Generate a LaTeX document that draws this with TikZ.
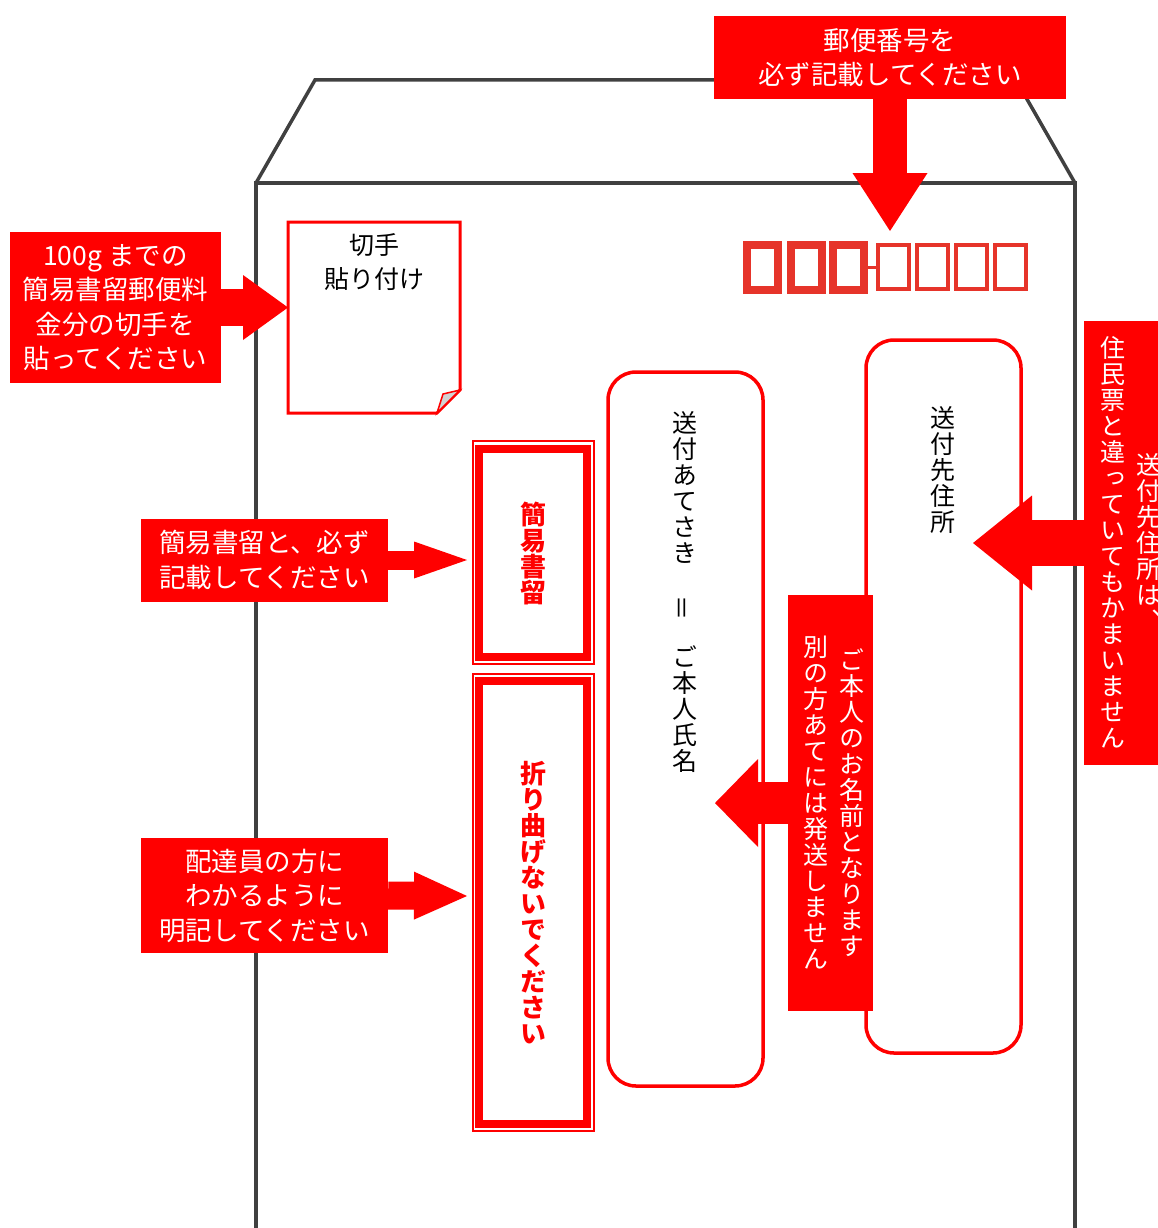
\documentclass[tikz,border=0pt]{standalone}
\usepackage{fontspec}
\usepackage{graphicx}
\usetikzlibrary{arrows.meta}
\newfontfamily\jp{Noto Sans CJK JP}
\newfontfamily\jpv[RawFeature=+vert]{Noto Sans CJK JP}
\definecolor{callred}{RGB}{255,0,0}
\definecolor{zipred}{RGB}{230,52,42}
\definecolor{envgray}{RGB}{64,64,64}
% vertical writing: one character per cell
\newlength\tatepitch
\setlength\tatepitch{26pt}
\newcommand\tatechar[1]{\ifx\relax#1\else\hbox to \tatepitch{\hss#1\hss}\expandafter\tatechar\fi}
\newcommand\tate[1]{\vbox{\baselineskip=\tatepitch\lineskiplimit=-\maxdimen\tatechar#1\relax}}
\newcommand\eqv{\rotatebox[origin=c]{90}{\jp ＝}}
\tikzset{
	callout/.style={fill=callred, text=white, inner sep=0pt, align=center,
		font=\jp\fontsize{26.5}{34.5}\selectfont},
	tatecall/.style={fill=callred, inner sep=0pt},
	tatewhite/.style={inner sep=0pt, text=white, font=\jpv\fontsize{25}{26}\selectfont},
	tateblack/.style={inner sep=0pt, text=black, font=\jpv\fontsize{25}{26}\selectfont},
	tatered/.style={draw=callred, line width=8pt, inner sep=0pt, text=callred,
		font=\jpv\bfseries\fontsize{26}{26}\selectfont},
	addrbox/.style={draw=callred, line width=3.5pt, rounded corners=28pt, inner sep=0pt},
	zipbox/.style={draw=zipred},
	envline/.style={draw=envgray, line width=3.5pt, line join=miter},
	fatarrow/.style n args={3}{draw=callred, line width=#1,
		-{Triangle[length=#3, width=#2, line width=0pt]}},
}

\begin{document}
\begin{tikzpicture}[x=1pt, y=-1pt]
	\useasboundingbox (0,0) rectangle (1158,1228);
	\clip (0,0) rectangle (1158,1228);
	
	% envelope
	\draw[envline] (256,1240) -- (256,183) -- (1075,183) -- (1075,1240);
	\draw[envline] (256,183) -- (315,80) -- (1016,80) -- (1075,183);
	
	% postal code boxes
	\foreach \x in {743,787,829}
		\draw[zipbox, line width=8pt] (\x+4,245) rectangle (\x+35,290);
	\draw[zipred, line width=3pt] (868,267) -- (876,267);
	\foreach \x in {876,915,954,993}
		\draw[zipbox, line width=4pt] (\x+2,245) rectangle (\x+33,289);
	
	% stamp
	\draw[callred, line width=3pt, fill=white] (288,222) -- (460,222) -- (460,390) -- (437,413) -- (288,413) -- cycle;
	\draw[callred, line width=1.5pt, fill=gray!35] (460,390) -- (443,394) -- (437,413) -- cycle;
	\node[align=center, inner sep=0pt, font=\jp\fontsize{25}{34}\selectfont] (stamp) at (374,262) {切手\\貼り付け};
	\coordinate (stamptip) at (288,307.5);
	
	% registered mail and do-not-bend boxes
	\node[tatered, minimum width=108pt, minimum height=208pt] (kani) at (533,553) {\tate{簡易書留}};
	\draw[callred, line width=1.5pt] ([shift={(-2,-4)}]kani.north west) rectangle ([shift={(3,3)}]kani.south east);
	\node[tatered, minimum width=108pt, minimum height=443pt] (fold) at (533,902.5) {\tate{折り曲げないでください}};
	\draw[callred, line width=1.5pt] ([shift={(-2,-3)}]fold.north west) rectangle ([shift={(3,3)}]fold.south east);
	\coordinate (kanitip) at (467,560);
	\coordinate (foldtip) at (467,896);
	
	% address boxes
	\node[addrbox, minimum width=155pt, minimum height=714pt] (atesaki) at (685.5,729) {};
	\node[tateblack] (atesakitext) at (685,592) {\tate{送付あてさき　\eqv　ご本人氏名}};
	\node[addrbox, minimum width=155pt, minimum height=713pt] (saki) at (943.5,696.5) {};
	\node[tateblack] (sakitext) at (943,470) {\tate{送付先住所}};
	\coordinate (atesakitip) at (715,803);
	\coordinate (sakitip) at (973,543);
	
	% callouts
	\node[callout, minimum width=352pt, minimum height=83pt] (zipcall) at (890,57.5) {郵便番号を\\必ず記載してください};
	\coordinate (ziptip) at (890,231);
	\node[callout, minimum width=211pt, minimum height=151pt] (stampcall) at (115.5,307.5) {100g までの\\簡易書留郵便料\\金分の切手を\\貼ってください};
	\node[callout, minimum width=247pt, minimum height=83pt] (kanicall) at (264.5,560) {簡易書留と、必ず\\記載してください};
	\node[callout, minimum width=247pt, minimum height=115pt] (foldcall) at (264.5,895.5) {配達員の方に\\わかるように\\明記してください};
	
	\node[tatecall, minimum width=85pt, minimum height=416pt] (namecall) at (830.5,803) {};
	\node[tatewhite] (namecallr) at (852,803) {\tate{ご本人のお名前となります}};
	\node[tatewhite] (namecalll) at (816,803) {\tate{別の方あてには発送しません}};
	
	\node[tatecall, minimum width=91pt, minimum height=444pt] (addrcall) at (1129.5,543) {};
	\node[tatewhite] (addrcallr) at (1149,542) {\tate{送付先住所は、}};
	\node[tatewhite] (addrcalll) at (1113,542) {\tate{住民票と違っていてもかまいません}};
	
	% arrows
	\draw[fatarrow={34pt}{75pt}{58pt}] (zipcall.south) -- (ziptip);
	\draw[fatarrow={37pt}{65pt}{45pt}] (stampcall.east) -- (stamptip);
	\draw[fatarrow={19pt}{37pt}{53pt}] (kanicall.east) -- (kanitip);
	\draw[fatarrow={28pt}{48pt}{53pt}] (foldcall.east) -- (foldtip);
	\draw[fatarrow={46pt}{95pt}{59pt}] (addrcall.west) -- (sakitip);
	\draw[fatarrow={42pt}{88pt}{43pt}] (namecall.west) -- (atesakitip);
\end{tikzpicture}
\end{document}
